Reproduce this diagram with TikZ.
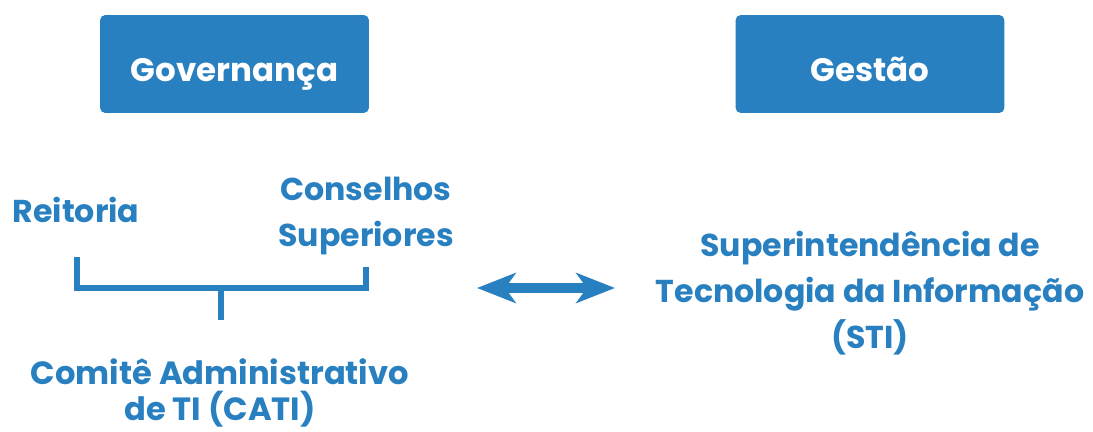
\documentclass[tikz,border=0pt]{standalone}
\usepackage{fontspec}
\setmainfont{Poppins}
\usepackage{tikz}
\usetikzlibrary{arrows.meta,positioning}
\definecolor{tiblue}{HTML}{2880C0}

\begin{document}
\begin{tikzpicture}[x=0.02cm,y=-0.02cm,
  headbox/.style={fill=tiblue,draw=none,rounded corners=3pt,minimum width=5.38cm,
    minimum height=1.96cm,text=white,text height=20pt,text depth=0pt,
    font=\fontsize{18.5}{24}\bfseries\selectfont},
  bluetext/.style={text=tiblue,align=center,inner sep=0pt,font=\fontsize{18}{26}\bfseries\selectfont}]
\useasboundingbox (0,0) rectangle (1093,432);
% top boxes
\node[headbox] (gov) at (234.5,64) {Governança};
\node[headbox] (ges) at (870,64) {Gestão};
% governance side
\node[bluetext] (reit) at (76,210) {Reitoria};
\node[bluetext] (cons) at (366,216) {Conselhos\\Superiores};
\node[bluetext,font=\fontsize{18.3}{20}\bfseries\selectfont] (cati) at (220,393) {Comitê Administrativo\\de TI (CATI)};
\coordinate (bl) at (77,257);
\coordinate (br) at (366,267);
\coordinate (stem) at (221,288);
\draw[tiblue,line width=3.3pt] (bl) |- (stem) -| (br);
\draw[tiblue,line width=3.3pt] (stem) -- ++(0,32);
% management side
\node[bluetext] (sti) at (870,293) {Superintendência de\\Tecnologia da Informação\\(STI)};
\coordinate (al) at (477,288);
\coordinate (ar) at (615,288);
\draw[tiblue,line width=5.5pt,{Stealth[length=22pt,width=17pt,inset=6pt]}-{Stealth[length=22pt,width=17pt,inset=6pt]}] (al) -- (ar);
\end{tikzpicture}
\end{document}
